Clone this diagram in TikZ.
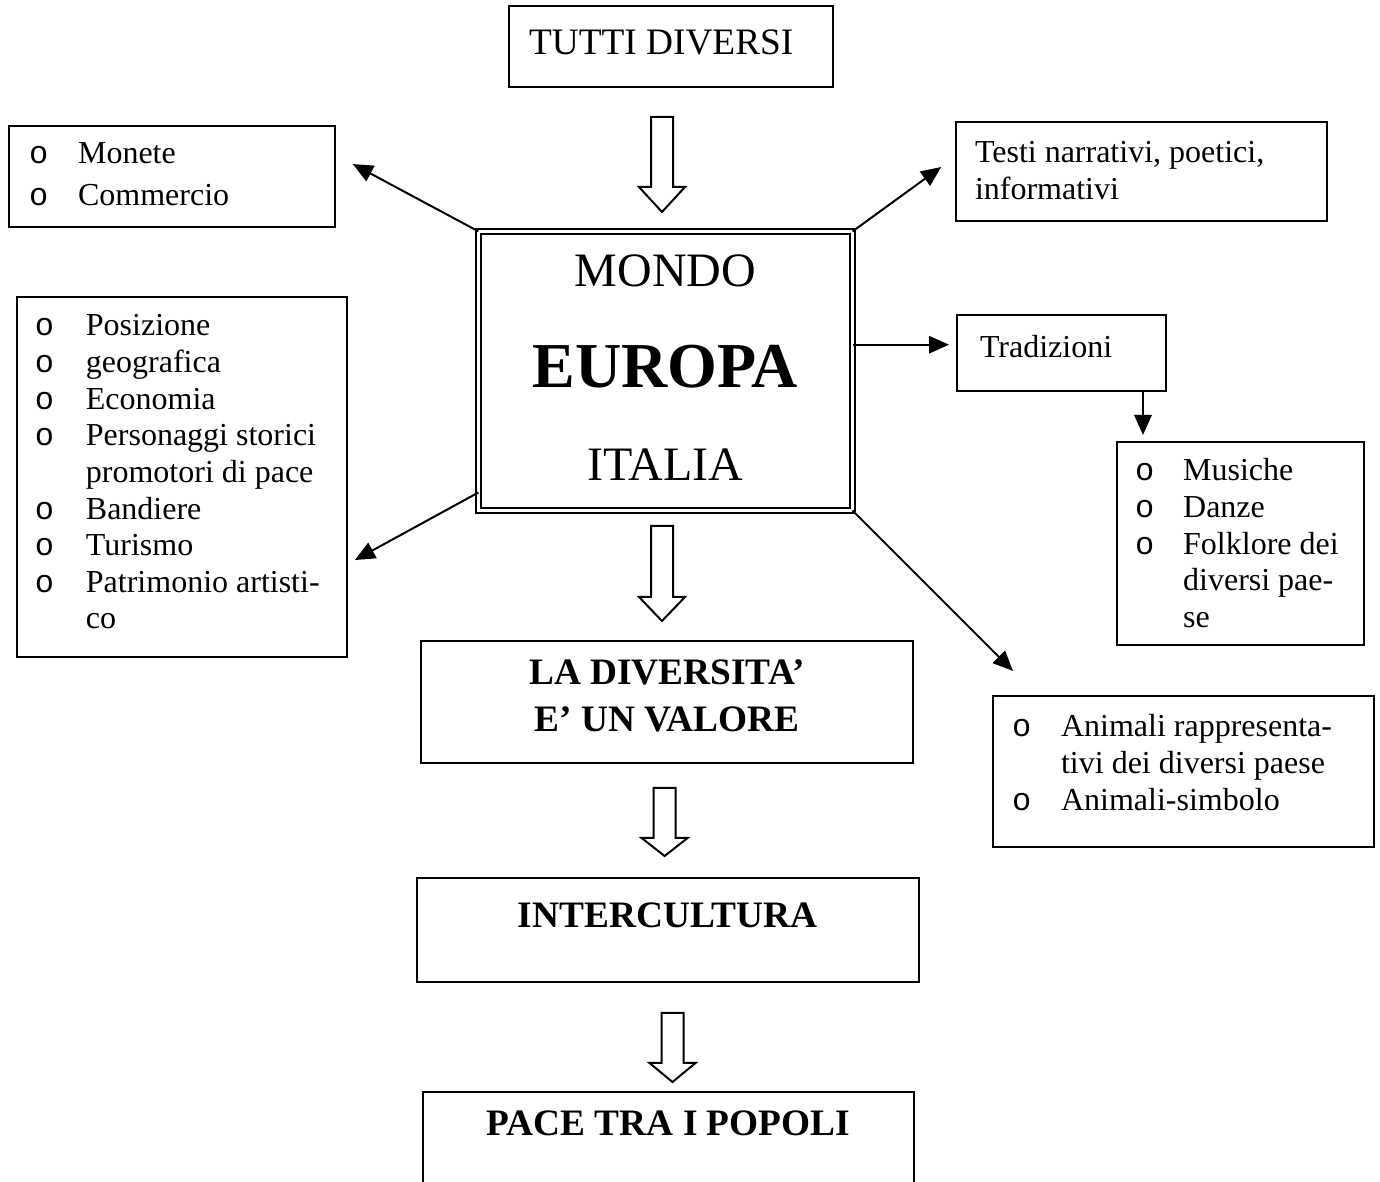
\documentclass[tikz,border=0pt]{standalone}
\usepackage{fontspec}
\setmainfont{Liberation Serif}
\setmonofont{Liberation Mono}
\usetikzlibrary{arrows.meta,calc}

\newcommand{\bul}[1][18.4pt]{\makebox[#1][l]{\ttfamily o}}
\newcommand{\hng}[1][18.4pt]{\hspace*{#1}}
% block arrow: centre x, top y, tip y, head length
\newcommand{\hollowdown}[4]{%
  \draw[blk] (#1-11,#2) -- (#1+11,#2) -- (#1+11,#3-#4) -- (#1+23,#3-#4) -- (#1,#3)
    -- (#1-23,#3-#4) -- (#1-11,#3-#4) -- cycle;}

\begin{document}
\begin{tikzpicture}[x=0.375pt,y=-0.375pt,
  bx/.style={draw,line width=0.75pt,inner sep=0pt,outer sep=0pt,anchor=north west,align=flush left},
  tx/.style={font=\fontsize{12pt}{#1}\selectfont},
  ar/.style={-{Triangle[length=7.5pt,width=6.5pt]},line width=0.75pt},
  blk/.style={draw,line width=0.75pt,fill=white}]
\useasboundingbox (0,0) rectangle (1380,1182);

% central column
\node[bx,font=\fontsize{14pt}{16pt}\selectfont,minimum width=121.5pt,minimum height=30.375pt,
  text width=106.5pt,text height=18.375pt,text depth=12pt] (tutti) at (509,6) {TUTTI DIVERSI};
\node[bx,double,double distance=1.2pt,line width=0.6pt,align=flush center,
  font=\fontsize{18pt}{34.875pt}\selectfont,minimum width=140.3pt,minimum height=104.7pt,
  text width=140.3pt,text height=20.5pt,text depth=84.2pt] (centre) at (478.4,231.4)
  {MONDO\\[3pt]{\fontsize{24pt}{34.875pt}\selectfont\bfseries EUROPA}\\ITALIA};
\node[bx,align=flush center,font=\fontsize{14pt}{17.625pt}\selectfont\bfseries,minimum width=184.5pt,
  minimum height=45.75pt,text width=184.5pt,text height=16.5pt,text depth=29.25pt] (valore) at (421,641)
  {LA DIVERSITA’\\E’ UN VALORE};
\node[bx,align=flush center,font=\fontsize{14pt}{16pt}\selectfont\bfseries,minimum width=188.4pt,
  minimum height=39pt,text width=188.4pt,text height=18.75pt,text depth=20.25pt] (inter) at (416.5,878)
  {INTERCULTURA};
\node[bx,align=flush center,font=\fontsize{14pt}{16pt}\selectfont\bfseries,minimum width=184.1pt,
  minimum height=36.75pt,text width=184.1pt,text height=16.5pt,text depth=20.25pt] (pace) at (423,1092)
  {PACE TRA I POPOLI};

% left side
\node[bx,tx=15.75pt,minimum width=122.25pt,minimum height=37.875pt,text width=107.25pt,
  text height=14.25pt,text depth=23.625pt] (monete) at (9,126) {\bul Monete\\\bul Commercio};
\node[bx,tx=13.73pt,minimum width=123.75pt,minimum height=135pt,text width=110.25pt,
  text height=14.625pt,text depth=120.375pt] (geo) at (17,297)
  {\bul[19.1pt]Posizione\\\bul[19.1pt]geografica\\\bul[19.1pt]Economia\\
   \bul[19.1pt]Personaggi storici\\\hng[19.1pt]promotori di pace\\\bul[19.1pt]Bandiere\\
   \bul[19.1pt]Turismo\\\bul[19.1pt]Patrimonio artisti-\\\hng[19.1pt]co};

% right side
\node[bx,tx=13.875pt,minimum width=139.125pt,minimum height=37.125pt,text width=124.875pt,
  text height=15.375pt,text depth=21.75pt] (testi) at (956,122) {Testi narrativi, poetici,\\informativi};
\node[bx,tx=14pt,minimum width=78.375pt,minimum height=28.5pt,text width=61.125pt,
  text height=16.125pt,text depth=12.375pt] (trad) at (957,315) {Tradizioni};
\node[bx,tx=13.73pt,minimum width=92.625pt,minimum height=76.125pt,text width=79pt,
  text height=14.625pt,text depth=61.5pt] (musiche) at (1117,442)
  {\bul[18pt]Musiche\\\bul[18pt]Danze\\\bul[18pt]Folklore dei\\\hng[18pt]diversi pae-\\\hng[18pt]se};
\node[bx,tx=13.875pt,minimum width=142.875pt,minimum height=56.625pt,text width=128.625pt,
  text height=15.375pt,text depth=41.25pt] (animali) at (993,696)
  {\bul Animali rappresenta-\\\hng tivi dei diversi paese\\\bul Animali-simbolo};

% connectors
\draw[ar,shorten >=7.6pt] (centre.north west) -- ($(monete.east)+(0,-22)$);
\draw[ar,shorten >=3.4pt] (centre.213) -- ($(geo.east)+(0,87.4)$);
\draw[ar,shorten >=6.9pt] (centre.north east) -- ($(testi.west)+(0,-15.3)$);
\draw[ar,shorten >=3pt] (centre.8) -- (centre.8 -| trad.west);
\draw[ar] ($(trad.south east)+(-23,0)$) -- ++(0,44);
\draw[ar,shorten >=13.3pt] (centre.south east) -- ($(animali.north)+(-145.5,0)$);

% block arrows
\hollowdown{662}{117}{212}{25}
\hollowdown{662}{526}{621}{24}
\hollowdown{664.6}{788}{856}{18}
\hollowdown{672.5}{1013}{1082}{19}
\end{tikzpicture}
\end{document}
